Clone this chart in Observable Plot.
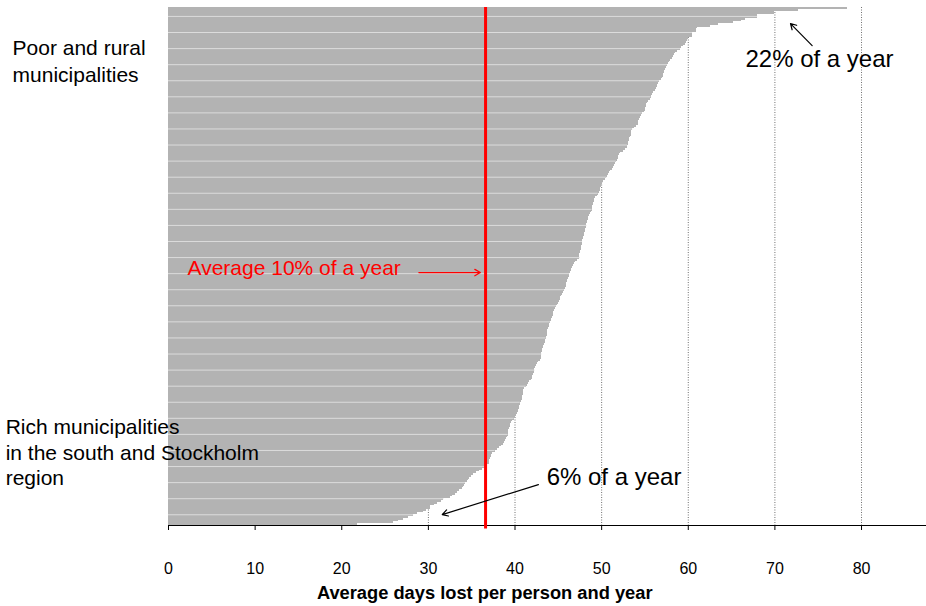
<!DOCTYPE html>
<html>
<head>
<meta charset="utf-8">
<script src="https://cdn.jsdelivr.net/npm/d3@7"></script>
<script src="https://cdn.jsdelivr.net/npm/@observablehq/plot@0.6"></script>
<style>
  html, body { margin: 0; padding: 0; background: white; }
  #chart { width: 926px; height: 606px; }
</style>
</head>
<body>
<div id="chart"></div>
<script>
// Average days lost per person and year, one value per municipality, sorted descending
const municipalityDays = [
  78.4, 72.7, 69.9, 69.9, 68.0, 68.0, 66.6, 66.2, 65.2, 63.5,
  62.6, 61.1, 61.0, 60.9, 60.5, 60.5, 60.5, 60.0, 59.9, 59.8,
  59.7, 59.4, 59.2, 59.1, 58.8, 58.5, 58.4, 58.3, 58.2, 58.0,
  57.8, 57.7, 57.6, 57.5, 57.4, 57.3, 57.2, 57.1, 57.1, 57.0,
  56.9, 56.7, 56.6, 56.5, 56.4, 56.3, 56.2, 56.0, 55.9, 55.8,
  55.7, 55.6, 55.4, 55.3, 55.2, 55.2, 55.1, 55.1, 54.9, 54.7,
  54.6, 54.5, 54.4, 54.3, 54.3, 54.2, 54.0, 53.8, 53.6, 53.5,
  53.4, 53.4, 53.3, 53.2, 53.2, 53.1, 53.1, 53.0, 53.0, 52.7,
  52.5, 52.2, 52.1, 52.0, 51.9, 51.8, 51.7, 51.6, 51.5, 51.4,
  51.2, 51.0, 50.9, 50.8, 50.7, 50.6, 50.4, 50.2, 50.1, 50.0,
  50.0, 49.9, 49.9, 49.7, 49.6, 49.5, 49.3, 49.2, 49.2, 49.1,
  49.1, 49.0, 49.0, 48.9, 48.8, 48.7, 48.6, 48.5, 48.5, 48.4,
  48.4, 48.3, 48.3, 48.2, 48.1, 48.1, 48.0, 48.0, 47.9, 47.9,
  47.8, 47.8, 47.8, 47.7, 47.7, 47.7, 47.6, 47.6, 47.5, 47.5,
  47.5, 47.2, 47.0, 46.9, 46.7, 46.6, 46.5, 46.5, 46.4, 46.3,
  46.3, 46.2, 46.1, 46.1, 46.0, 45.9, 45.9, 45.8, 45.7, 45.6,
  45.5, 45.4, 45.3, 45.2, 45.1, 45.0, 44.9, 44.8, 44.7, 44.6,
  44.5, 44.4, 44.4, 44.3, 44.2, 44.2, 44.1, 44.0, 44.0, 43.9,
  43.8, 43.8, 43.7, 43.7, 43.6, 43.6, 43.5, 43.5, 43.4, 43.3,
  43.3, 43.2, 43.2, 43.1, 43.1, 43.0, 43.0, 42.9, 42.7, 42.6,
  42.5, 42.4, 42.3, 42.3, 42.2, 42.1, 42.0, 42.0, 41.9, 41.7,
  41.6, 41.4, 41.3, 41.1, 41.0, 41.0, 41.0, 40.9, 40.9, 40.9,
  40.7, 40.6, 40.6, 40.5, 40.5, 40.4, 40.4, 40.3, 40.2, 40.0,
  39.9, 39.7, 39.6, 39.5, 39.5, 39.4, 39.3, 39.3, 39.2, 39.2,
  39.1, 39.0, 38.9, 38.8, 38.7, 38.4, 38.2, 38.0, 37.7, 37.4,
  37.3, 37.3, 37.2, 37.1, 37.0, 37.0, 36.8, 36.6, 36.3, 35.9,
  35.5, 35.2, 35.0, 34.8, 34.6, 34.5, 34.3, 34.2, 34.0, 33.9,
  33.6, 33.4, 33.1, 32.8, 32.6, 31.8, 31.5, 31.1, 30.7, 30.3,
  30.3, 29.8, 29.4, 28.8, 28.3, 27.7, 27.1, 26.5, 26.0, 21.8
];
const tickValues = [0, 10, 20, 30, 40, 50, 60, 70, 80];
const gridValues = [10, 20, 30, 40, 50, 60, 70, 80];
const averageDays = 36.6;
const xDomain = [0, 87.5];
const axisTitle = "Average days lost per person and year";

const rows = municipalityDays.map((days, rank) => ({rank, days, next: rank + 1}));
const gapRows = rows.filter(d => d.rank % 9 === 5);
const nRows = municipalityDays.length;

const chart = Plot.plot({
  width: 926,
  height: 606,
  marginLeft: 168,
  marginRight: 0,
  marginTop: 7,
  marginBottom: 81,
  x: {domain: xDomain, label: null},
  y: {domain: [nRows, 0], axis: null},
  style: {fontFamily: "'Liberation Sans', Arial, sans-serif", background: "white", color: "black", overflow: "visible"},
  marks: [
    Plot.ruleX(gridValues, {y1: 0, y2: nRows, stroke: "#707070", strokeDasharray: "1,1.5"}),
    Plot.rect(rows, {x1: 0, x2: "days", y1: "rank", y2: "next", fill: "#b3b3b3", shapeRendering: "crispEdges"}),
    Plot.ruleY(gapRows, {y: "rank", x1: 0, x2: "days", stroke: "#dcdcdc", strokeWidth: 1}),
    Plot.ruleY([nRows], {stroke: "black", strokeWidth: 1}),
    Plot.axisX({ticks: tickValues, tickSize: 5, tickPadding: 32, fontSize: 16, label: null}),
    Plot.ruleX([averageDays], {y1: 0, y2: nRows + 2, stroke: "#ff0000", strokeWidth: 3}),
    Plot.text([axisTitle], {x: 36.5, y: 328.1, fontWeight: "bold", fontSize: 18.3, fill: "black"}),
    // annotations
    Plot.text(["Poor and rural"], {x: -18.0, y: 23.0, textAnchor: "start", fontSize: 21, fill: "black"}),
    Plot.text(["municipalities"], {x: -18.0, y: 38.1, textAnchor: "start", fontSize: 21, fill: "black"}),
    Plot.text(["Rich municipalities"], {x: -18.8, y: 235.2, textAnchor: "start", fontSize: 21, fill: "black"}),
    Plot.text(["in the south and Stockholm"], {x: -18.8, y: 249.7, textAnchor: "start", fontSize: 21, fill: "black"}),
    Plot.text(["region"], {x: -18.8, y: 263.7, textAnchor: "start", fontSize: 21, fill: "black"}),
    Plot.text(["22% of a year"], {x: 66.6, y: 29.1, textAnchor: "start", fontSize: 24, fill: "black"}),
    Plot.text(["6% of a year"], {x: 43.65, y: 263.2, textAnchor: "start", fontSize: 24, fill: "black"}),
    Plot.text(["Average 10% of a year"], {x: 2.2, y: 146.1, textAnchor: "start", fontSize: 21, fill: "#ff0000"}),
    Plot.arrow([{x1: 74.3, y1: 21.3, x2: 71.8, y2: 9.0}], {x1: "x1", y1: "y1", x2: "x2", y2: "y2", stroke: "black", strokeWidth: 1.2, headLength: 8}),
    Plot.arrow([{x1: 42.7, y1: 267.1, x2: 31.6, y2: 283.9}], {x1: "x1", y1: "y1", x2: "x2", y2: "y2", stroke: "black", strokeWidth: 1.2, headLength: 8}),
    Plot.arrow([{x1: 28.9, y1: 148.4, x2: 36.0, y2: 148.4}], {x1: "x1", y1: "y1", x2: "x2", y2: "y2", stroke: "#ff0000", strokeWidth: 1.2, headLength: 8})
  ]
});
document.getElementById("chart").appendChild(chart);
</script>
</body>
</html>
